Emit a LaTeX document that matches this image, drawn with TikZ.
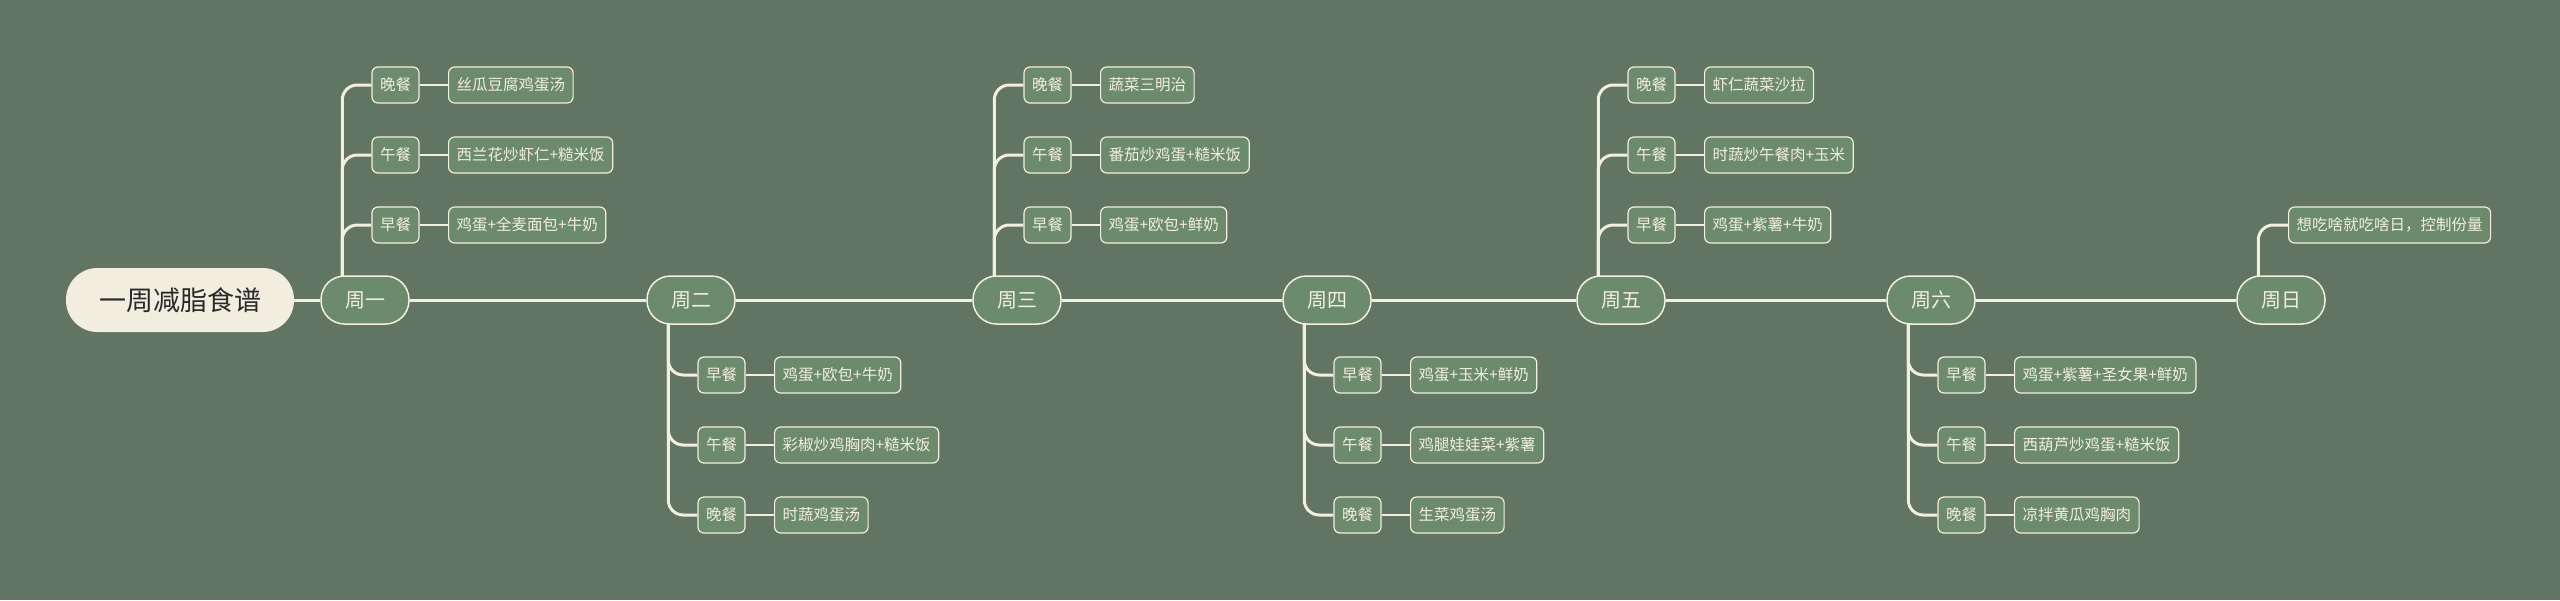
\documentclass[tikz,border=0pt]{standalone}
\usepackage{fontspec}
\setmainfont{Noto Sans CJK SC}
\usetikzlibrary{backgrounds}
\definecolor{bg}{HTML}{627462}
\definecolor{nodefill}{HTML}{6C8A6E}
\definecolor{cream}{HTML}{F3EFDE}
\definecolor{rootfill}{HTML}{F1EDDF}
\definecolor{roottext}{HTML}{2A2A2A}
\begin{document}
\begin{tikzpicture}[x=1pt,y=-1pt,
  rootbox/.style={rectangle, rounded corners=31.5pt, fill=rootfill, minimum width=228pt, minimum height=64pt, inner sep=0pt, text=roottext, font=\fontsize{27}{30}\selectfont},
  daybox/.style={rectangle, rounded corners=23.5pt, fill=nodefill, draw=cream, line width=1.5pt, minimum width=88pt, minimum height=48pt, inner sep=0pt, text=cream, font=\fontsize{20}{24}\selectfont},
  mealbox/.style={rectangle, rounded corners=6pt, fill=nodefill, draw=cream, line width=1.2pt, minimum width=47pt, minimum height=36pt, inner sep=0pt, text=cream, font=\fontsize{15.5}{18}\selectfont},
  foodbox/.style={mealbox, minimum width=0pt, inner xsep=8pt, anchor=west},
  trunk/.style={draw=cream, line width=3pt, rounded corners=15pt},
  leaf/.style={draw=cream, line width=2pt},
  mainline/.style={draw=cream, line width=3pt}]
\useasboundingbox (0,0) rectangle (2560,600);

% root and days
\node[rootbox] (root) at (180,300) {一周减脂食谱};
\node[daybox] (d1) at (365,300) {周一};
\node[daybox] (d2) at (691,300) {周二};
\node[daybox] (d3) at (1017,300) {周三};
\node[daybox] (d4) at (1327,300) {周四};
\node[daybox] (d5) at (1621,300) {周五};
\node[daybox] (d6) at (1931,300) {周六};
\node[daybox] (d7) at (2281,300) {周日};

% Monday (up), vx = 343
\node[mealbox] (m1a) at (395.5,85) {晚餐};
\node[mealbox] (m1b) at (395.5,155) {午餐};
\node[mealbox] (m1c) at (395.5,225) {早餐};
\node[foodbox] (f1a) at (448,85) {丝瓜豆腐鸡蛋汤};
\node[foodbox] (f1b) at (448,155) {西兰花炒虾仁+糙米饭};
\node[foodbox] (f1c) at (448,225) {鸡蛋+全麦面包+牛奶};

% Tuesday (down), vx = 669
\node[mealbox] (m2a) at (721.5,375) {早餐};
\node[mealbox] (m2b) at (721.5,445) {午餐};
\node[mealbox] (m2c) at (721.5,515) {晚餐};
\node[foodbox] (f2a) at (774,375) {鸡蛋+欧包+牛奶};
\node[foodbox] (f2b) at (774,445) {彩椒炒鸡胸肉+糙米饭};
\node[foodbox] (f2c) at (774,515) {时蔬鸡蛋汤};

% Wednesday (up), vx = 995
\node[mealbox] (m3a) at (1047.5,85) {晚餐};
\node[mealbox] (m3b) at (1047.5,155) {午餐};
\node[mealbox] (m3c) at (1047.5,225) {早餐};
\node[foodbox] (f3a) at (1100,85) {蔬菜三明治};
\node[foodbox] (f3b) at (1100,155) {番茄炒鸡蛋+糙米饭};
\node[foodbox] (f3c) at (1100,225) {鸡蛋+欧包+鲜奶};

% Thursday (down), vx = 1305
\node[mealbox] (m4a) at (1357.5,375) {早餐};
\node[mealbox] (m4b) at (1357.5,445) {午餐};
\node[mealbox] (m4c) at (1357.5,515) {晚餐};
\node[foodbox] (f4a) at (1410,375) {鸡蛋+玉米+鲜奶};
\node[foodbox] (f4b) at (1410,445) {鸡腿娃娃菜+紫薯};
\node[foodbox] (f4c) at (1410,515) {生菜鸡蛋汤};

% Friday (up), vx = 1599
\node[mealbox] (m5a) at (1651.5,85) {晚餐};
\node[mealbox] (m5b) at (1651.5,155) {午餐};
\node[mealbox] (m5c) at (1651.5,225) {早餐};
\node[foodbox] (f5a) at (1704,85) {虾仁蔬菜沙拉};
\node[foodbox] (f5b) at (1704,155) {时蔬炒午餐肉+玉米};
\node[foodbox] (f5c) at (1704,225) {鸡蛋+紫薯+牛奶};

% Saturday (down), vx = 1909
\node[mealbox] (m6a) at (1961.5,375) {早餐};
\node[mealbox] (m6b) at (1961.5,445) {午餐};
\node[mealbox] (m6c) at (1961.5,515) {晚餐};
\node[foodbox] (f6a) at (2014,375) {鸡蛋+紫薯+圣女果+鲜奶};
\node[foodbox] (f6b) at (2014,445) {西葫芦炒鸡蛋+糙米饭};
\node[foodbox] (f6c) at (2014,515) {凉拌黄瓜鸡胸肉};

% Sunday (up), vx = 2259
\node[foodbox] (f7) at (2288,225) {想吃啥就吃啥日，控制份量};

\begin{scope}[on background layer]
  \fill[bg] (0,0) rectangle (2560,600);
  % main line
  \draw[mainline] (root.east) -- (d1.west);
  \draw[mainline] (d1.east) -- (d2.west);
  \draw[mainline] (d2.east) -- (d3.west);
  \draw[mainline] (d3.east) -- (d4.west);
  \draw[mainline] (d4.east) -- (d5.west);
  \draw[mainline] (d5.east) -- (d6.west);
  \draw[mainline] (d6.east) -- (d7.west);
  % up branches
  \foreach \d/\m in {d1/m1a,d1/m1b,d1/m1c,d3/m3a,d3/m3b,d3/m3c,d5/m5a,d5/m5b,d5/m5c,d7/f7}{
    \draw[trunk] (\d.north west) ++(22,2) |- (\m.west);
  }
  % down branches
  \foreach \d/\m in {d2/m2a,d2/m2b,d2/m2c,d4/m4a,d4/m4b,d4/m4c,d6/m6a,d6/m6b,d6/m6c}{
    \draw[trunk] (\d.south west) ++(22,-2) |- (\m.west);
  }
  % meal to food
  \foreach \m/\f in {m1a/f1a,m1b/f1b,m1c/f1c,m2a/f2a,m2b/f2b,m2c/f2c,m3a/f3a,m3b/f3b,m3c/f3c,m4a/f4a,m4b/f4b,m4c/f4c,m5a/f5a,m5b/f5b,m5c/f5c,m6a/f6a,m6b/f6b,m6c/f6c}{
    \draw[leaf] (\m.east) -- (\f.west);
  }
\end{scope}
\end{tikzpicture}
\end{document}
